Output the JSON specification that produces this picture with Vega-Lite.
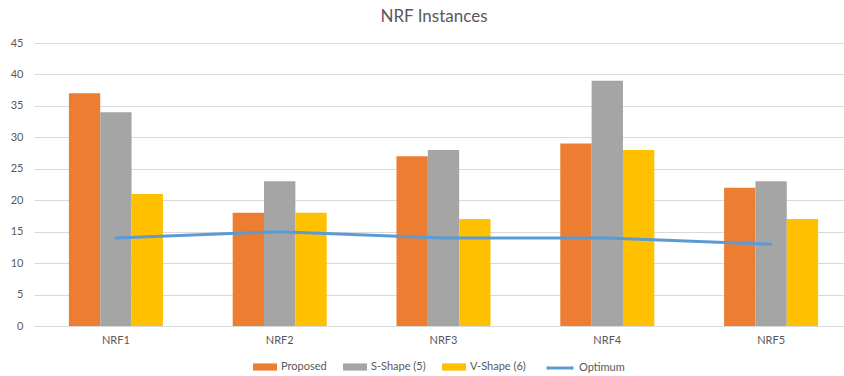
{
  "$schema": "https://vega.github.io/schema/vega-lite/v6.json",
  "autosize": {"type": "none"},
  "width": 810,
  "height": 283,
  "padding": {"left": 34, "top": 43, "right": 0, "bottom": 50},
  "background": "white",
  "title": {
    "text": "NRF Instances",
    "font": "Lato",
    "fontSize": 17,
    "fontWeight": "normal",
    "color": "#595959",
    "anchor": "middle",
    "dx": -5,
    "offset": 11
  },
  "datasets": {
    "bars": [
      {"nrf": "NRF1", "series": "Proposed", "value": 37},
      {"nrf": "NRF1", "series": "S-Shape (5)", "value": 34},
      {"nrf": "NRF1", "series": "V-Shape (6)", "value": 21},
      {"nrf": "NRF2", "series": "Proposed", "value": 18},
      {"nrf": "NRF2", "series": "S-Shape (5)", "value": 23},
      {"nrf": "NRF2", "series": "V-Shape (6)", "value": 18},
      {"nrf": "NRF3", "series": "Proposed", "value": 27},
      {"nrf": "NRF3", "series": "S-Shape (5)", "value": 28},
      {"nrf": "NRF3", "series": "V-Shape (6)", "value": 17},
      {"nrf": "NRF4", "series": "Proposed", "value": 29},
      {"nrf": "NRF4", "series": "S-Shape (5)", "value": 39},
      {"nrf": "NRF4", "series": "V-Shape (6)", "value": 28},
      {"nrf": "NRF5", "series": "Proposed", "value": 22},
      {"nrf": "NRF5", "series": "S-Shape (5)", "value": 23},
      {"nrf": "NRF5", "series": "V-Shape (6)", "value": 17}
    ],
    "optimum": [
      {"nrf": "NRF1", "series": "Optimum", "value": 14},
      {"nrf": "NRF2", "series": "Optimum", "value": 15},
      {"nrf": "NRF3", "series": "Optimum", "value": 14},
      {"nrf": "NRF4", "series": "Optimum", "value": 14},
      {"nrf": "NRF5", "series": "Optimum", "value": 13}
    ]
  },
  "encoding": {
    "x": {
      "field": "nrf",
      "type": "nominal",
      "sort": null,
      "scale": {"range": [0, 819], "paddingInner": 0.426, "paddingOuter": 0.213},
      "axis": {
        "title": null,
        "labelAngle": 0,
        "labelFont": "Lato",
        "labelFontSize": 11,
        "labelColor": "#595959",
        "labelPadding": 8,
        "ticks": false,
        "domainColor": "#D9D9D9",
        "domainWidth": 1,
        "grid": false
      }
    },
    "y": {
      "field": "value",
      "type": "quantitative",
      "scale": {"domain": [0, 45], "nice": false},
      "axis": {
        "title": null,
        "values": [0, 5, 10, 15, 20, 25, 30, 35, 40, 45],
        "labelFont": "Lato",
        "labelFontSize": 11,
        "labelColor": "#595959",
        "labelPadding": 11,
        "ticks": false,
        "domain": false,
        "grid": true,
        "gridColor": "#D9D9D9",
        "gridWidth": 1
      }
    }
  },
  "layer": [
    {
      "data": {"name": "bars"},
      "mark": {"type": "bar"},
      "encoding": {
        "xOffset": {
          "field": "series",
          "type": "nominal",
          "sort": null,
          "scale": {"paddingInner": 0, "paddingOuter": 0}
        },
        "fill": {
          "field": "series",
          "type": "nominal",
          "sort": null,
          "scale": {
            "domain": ["Proposed", "S-Shape (5)", "V-Shape (6)"],
            "range": ["#ED7D31", "#A5A5A5", "#FFC000"]
          },
          "legend": {
            "title": null,
            "orient": "none",
            "direction": "horizontal",
            "legendX": 219,
            "legendY": 312,
            "symbolType": "M-1,-0.3H1V0.3H-1Z",
            "symbolSize": 576,
            "symbolStrokeWidth": 0,
            "labelFont": "Lato",
            "labelFontSize": 11,
            "labelColor": "#595959",
            "labelOffset": 4,
            "columnPadding": 16
          }
        }
      }
    },
    {
      "data": {"name": "optimum"},
      "mark": {"type": "line", "strokeWidth": 3, "strokeCap": "round"},
      "encoding": {
        "stroke": {
          "field": "series",
          "type": "nominal",
          "scale": {"domain": ["Optimum"], "range": ["#5B9BD5"]},
          "legend": {
            "title": null,
            "orient": "none",
            "direction": "horizontal",
            "legendX": 511,
            "legendY": 310,
            "symbolType": "stroke",
            "symbolSize": 729,
            "symbolStrokeWidth": 3,
            "labelFont": "Lato",
            "labelFontSize": 11,
            "labelColor": "#595959",
            "labelOffset": 4
          }
        }
      }
    }
  ],
  "config": {
    "view": {"stroke": null}
  }
}
